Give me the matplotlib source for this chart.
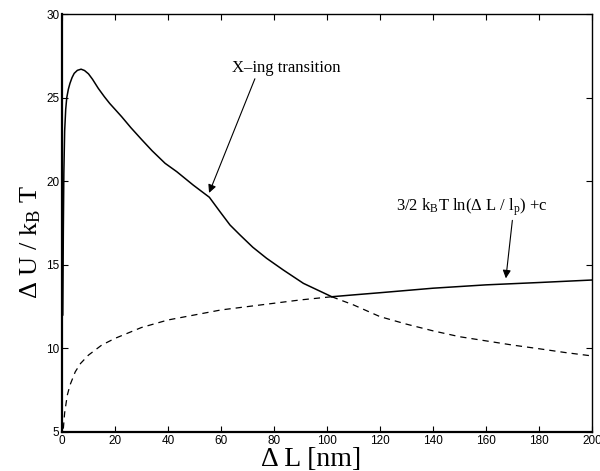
import matplotlib
matplotlib.use("Agg")
import matplotlib.pyplot as plt

# Energiekurve (durchgezogen bis zum Schnittpunkt, danach gestrichelt)
energy_x = [0.3, 0.5, 0.7, 1, 1.4, 1.8, 2.4, 3, 3.8, 4.6, 5.8, 7.2, 8.5, 10, 11.5,
            13.7, 16, 18, 20, 22.5, 26, 30, 34, 38.9, 43.3, 49.5, 55.6, 59.6, 63.4,
            67.2, 72, 77.2, 83.5, 91.1, 101.8]
energy_y = [12.0, 17.0, 20.5, 23.0, 24.3, 25.0, 25.5, 25.85, 26.2, 26.45, 26.63,
            26.7, 26.62, 26.42, 26.1, 25.55, 25.05, 24.65, 24.3, 23.86, 23.2,
            22.5, 21.82, 21.07, 20.57, 19.77, 19.04, 18.18, 17.38, 16.78, 16.05,
            15.39, 14.69, 13.89, 13.09]
energy_tail_x = [101.8, 110, 120, 130, 140, 150, 160, 170, 180, 190, 200]
energy_tail_y = [13.09, 12.6, 11.9, 11.45, 11.05, 10.7, 10.45, 10.2, 9.98, 9.75, 9.55]

# 3/2 kT ln(dL/lp) + c (gestrichelt bis zum Schnittpunkt, danach durchgezogen)
log_x = [0.5, 1, 2, 3, 5, 7, 10, 15, 20, 30, 40, 50, 60, 70, 80, 90, 101.8]
log_y = [5.2, 6.15, 7.2, 7.8, 8.6, 9.1, 9.6, 10.2, 10.6, 11.25, 11.7, 12.0, 12.3,
         12.5, 12.7, 12.9, 13.09]
log_tail_x = [101.8, 110, 120, 140, 160, 180, 200]
log_tail_y = [13.09, 13.2, 13.33, 13.6, 13.8, 13.94, 14.09]

x_ticks = [0, 20, 40, 60, 80, 100, 120, 140, 160, 180, 200]
y_ticks = [5, 10, 15, 20, 25, 30]

serif = "Liberation Serif"
sans = "Liberation Sans"
plt.rcParams["mathtext.fontset"] = "custom"
plt.rcParams["mathtext.rm"] = serif
plt.rcParams["mathtext.it"] = serif + ":italic"

fig = plt.figure(figsize=(6, 4.71), dpi=100)
ax = fig.add_axes([62 / 600, 39 / 471, 530 / 600, 418 / 471])

ax.plot(energy_x, energy_y, color="black", lw=1.1)
ax.plot(log_tail_x, log_tail_y, color="black", lw=1.1)
ax.plot(log_x, log_y, color="black", lw=0.9, ls=(0, (5, 4)))
ax.plot(energy_tail_x, energy_tail_y, color="black", lw=0.9, ls=(0, (5, 4)))

ax.set_xlim(0, 200)
ax.set_ylim(5, 30)
ax.set_xticks(x_ticks)
ax.set_yticks(y_ticks)
ax.tick_params(direction="in", top=True, right=True, length=4, width=0.8,
               labelsize=8.5, pad=2)
for lab in ax.get_xticklabels() + ax.get_yticklabels():
    lab.set_family(sans)
for side in ["left", "bottom"]:
    ax.spines[side].set_linewidth(1.6)
for side in ["top", "right"]:
    ax.spines[side].set_linewidth(1.0)

ax.set_xlabel("Δ L [nm]", family=serif, fontsize=20)
ax.set_ylabel(r"Δ U / k$_\mathrm{B}$ T", family=serif, fontsize=19)
ax.xaxis.set_label_coords(0.469, -0.035)
ax.yaxis.set_label_coords(-0.035, 0.455)

ax.annotate("X–ing transition", xy=(55.5, 19.3), xytext=(64.2, 26.77),
            family=serif, fontsize=12, va="center", ha="left",
            arrowprops=dict(arrowstyle="-|>", color="black", lw=0.8,
                            shrinkA=0, shrinkB=0, mutation_scale=12,
                            relpos=(0.22, 0)))
ax.annotate(r"3/2 k$_\mathrm{B}$T ln(Δ L / l$_\mathrm{p}$) +c", xy=(167.5, 14.19),
            xytext=(126, 18.47), family=serif, fontsize=12, va="center", ha="left",
            arrowprops=dict(arrowstyle="-|>", color="black", lw=0.8,
                            shrinkA=0, shrinkB=0, mutation_scale=12,
                            relpos=(0.77, 0)))

fig.savefig("out.png", dpi=100)
